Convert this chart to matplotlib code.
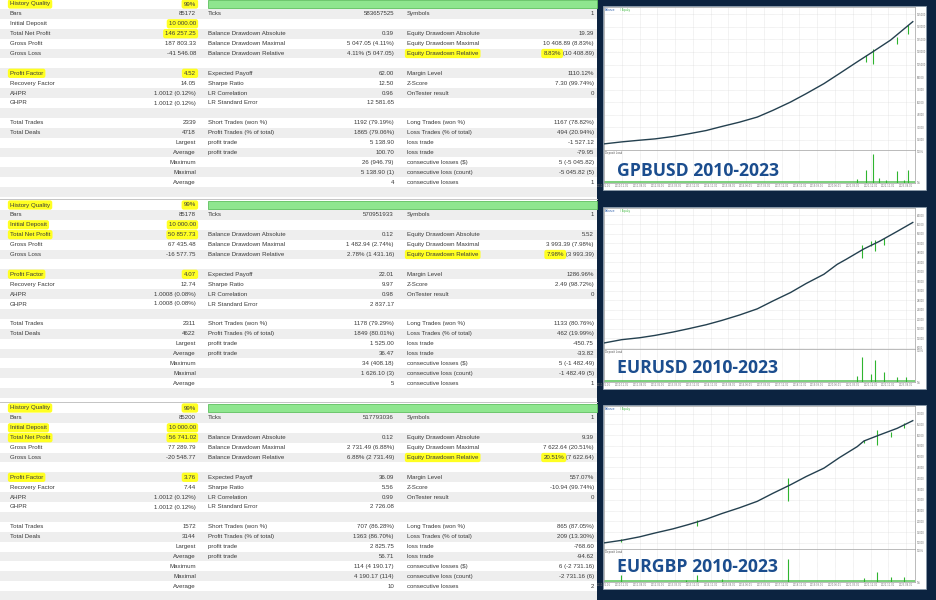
import numpy as np
import matplotlib
matplotlib.use("Agg")
import matplotlib.pyplot as plt
from matplotlib.patches import Rectangle
from matplotlib.ticker import MaxNLocator, FuncFormatter

W, H = 937, 600
FONT = "Liberation Sans"
TXT = "#3a3a3a"
ROW_BG = "#eeeeee"
HILITE = "#ffff22"
NAVY = "#0c2340"
TITLE_BLUE = "#1b4d8e"
LINE = "#24404f"
GREEN = "#2fb52f"
GRID = "#d6d6d6"

# ---- tabel laporan MT5 ----
ROW_LABELS = ["History Quality", "Bars", "Initial Deposit", "Total Net Profit",
              "Gross Profit", "Gross Loss", "", "Profit Factor", "Recovery Factor",
              "AHPR", "GHPR", "", "Total Trades", "Total Deals", "Largest",
              "Average", "Maximum", "Maximal", "Average", ""]
COL2_LABELS = ["", "Ticks", "", "Balance Drawdown Absolute", "Balance Drawdown Maximal",
               "Balance Drawdown Relative", "", "Expected Payoff", "Sharpe Ratio",
               "LR Correlation", "LR Standard Error", "", "Short Trades (won %)",
               "Profit Trades (% of total)", "profit trade", "profit trade", "", "", "", ""]
COL3_LABELS = ["", "Symbols", "", "Equity Drawdown Absolute", "Equity Drawdown Maximal",
               "Equity Drawdown Relative", "", "Margin Level", "Z-Score", "OnTester result",
               "", "", "Long Trades (won %)", "Loss Trades (% of total)", "loss trade",
               "loss trade", "consecutive losses ($)", "consecutive loss (count)",
               "consecutive losses", ""]

GBP_C1 = ["99%", "85172", "10 000.00", "146 257.25", "187 803.33", "-41 546.08", "",
          "4.52", "14.05", "1.0012 (0.12%)", "1.0012 (0.12%)", "", "2339", "4718",
          "", "", "", "", "", ""]
GBP_C2 = ["", "583657525", "", "0.39", "5 047.05 (4.11%)", "4.11% (5 047.05)", "",
          "62.00", "12.50", "0.96", "12 581.65", "", "1192 (79.19%)", "1865 (79.06%)",
          "5 138.90", "100.70", "26 (946.79)", "5 138.90 (1)", "4", ""]
GBP_C3 = ["", "1", "", "19.39", "10 408.89 (8.83%)", "8.83% (10 408.89)", "",
          "1110.12%", "7.30 (99.74%)", "0", "", "", "1167 (78.82%)", "494 (20.94%)",
          "-1 527.12", "-79.95", "5 (-5 045.82)", "-5 045.82 (5)", "1", ""]

EUR_C1 = ["99%", "85178", "10 000.00", "50 857.73", "67 435.48", "-16 577.75", "",
          "4.07", "12.74", "1.0008 (0.08%)", "1.0008 (0.08%)", "", "2311", "4622",
          "", "", "", "", "", ""]
EUR_C2 = ["", "570951933", "", "0.12", "1 482.94 (2.74%)", "2.78% (1 431.16)", "",
          "22.01", "9.97", "0.98", "2 837.17", "", "1178 (79.29%)", "1849 (80.01%)",
          "1 525.00", "36.47", "34 (408.18)", "1 626.10 (3)", "5", ""]
EUR_C3 = ["", "1", "", "5.52", "3 993.39 (7.98%)", "7.98% (3 993.39)", "",
          "1286.96%", "2.49 (98.72%)", "0", "", "", "1133 (80.76%)", "462 (19.99%)",
          "-450.75", "-33.82", "5 (-1 482.49)", "-1 482.49 (5)", "1", ""]

EGB_C1 = ["99%", "85200", "10 000.00", "56 741.02", "77 289.79", "-20 548.77", "",
          "3.76", "7.44", "1.0012 (0.12%)", "1.0012 (0.12%)", "", "1572", "3144",
          "", "", "", "", "", ""]
EGB_C2 = ["", "517793036", "", "0.12", "2 731.49 (6.88%)", "6.88% (2 731.49)", "",
          "36.09", "5.56", "0.99", "2 726.08", "", "707 (86.28%)", "1363 (86.70%)",
          "2 825.75", "56.71", "114 (4 190.17)", "4 190.17 (114)", "10", ""]
EGB_C3 = ["", "1", "", "9.39", "7 622.64 (20.51%)", "20.51% (7 622.64)", "",
          "557.07%", "-10.94 (99.74%)", "0", "", "", "865 (87.05%)", "209 (13.30%)",
          "-768.60", "-94.62", "6 (-2 731.16)", "-2 731.16 (6)", "2", ""]

# baris yang distabilo (label kolom-1 / nilai kolom-1)
GBP_HL_LABEL = [0, 7]
EUR_HL_LABEL = [0, 2, 3, 7]
EGB_HL_LABEL = [0, 2, 3, 7]
HL_VALUE = [0, 2, 3, 7]

# ---- kurva balance (tahun, saldo) ----
GBP_YEAR = [2010.0, 2010.8, 2011.6, 2012.3, 2013.1, 2013.8, 2014.6, 2015.3, 2016.1,
            2016.9, 2017.6, 2018.4, 2019.1, 2019.9, 2020.6, 2021.4, 2022.1, 2022.9, 2023.9]
GBP_BAL = [10000, 12400, 14400, 16000, 18800, 22000, 26000, 30800, 36000,
           42100, 50100, 60100, 70100, 82100, 94200, 108200, 120200, 134200, 156257]
GBP_SPK_YEAR = [2021.8, 2022.1, 2023.2, 2023.7]
GBP_SPK_LO = [108000, 106000, 130000, 142000]
GBP_SPK_HI = [116000, 124000, 138000, 152000]
GBP_LOAD_YEAR = [2021.4, 2021.8, 2022.1, 2022.4, 2022.7, 2023.2, 2023.5, 2023.7]
GBP_LOAD = [0.12, 0.42, 0.93, 0.16, 0.08, 0.37, 0.10, 0.40]

EUR_YEAR = [2010.0, 2010.8, 2011.6, 2012.3, 2013.1, 2013.8, 2014.6, 2015.3, 2016.1,
            2016.9, 2017.6, 2018.4, 2019.1, 2019.9, 2020.5, 2020.9, 2021.7, 2022.4, 2023.2, 2023.9]
EUR_BAL = [10000, 11400, 12200, 13200, 14600, 16000, 17700, 19500, 21800,
           24400, 27700, 31300, 35100, 39000, 43200, 45300, 49700, 52900, 57100, 60858]
EUR_SPK_YEAR = [2021.6, 2022.0, 2022.2, 2022.6]
EUR_SPK_LO = [45950, 50800, 48700, 51500]
EUR_SPK_HI = [51500, 52900, 53600, 54300]
EUR_LOAD_YEAR = [2021.4, 2021.6, 2022.0, 2022.2, 2022.6, 2023.2, 2023.6]
EUR_LOAD = [0.19, 0.80, 0.26, 0.71, 0.31, 0.17, 0.17]

EGB_YEAR = [2010.0, 2010.8, 2011.6, 2012.3, 2013.1, 2013.8, 2014.6, 2015.3, 2016.1,
            2016.9, 2017.6, 2018.4, 2019.1, 2019.9, 2020.6, 2021.4, 2021.7, 2022.4, 2023.2, 2023.9]
EGB_BAL = [10000, 11200, 12800, 14600, 16500, 18500, 21000, 23600, 26300,
           29300, 33000, 37000, 40800, 44700, 49600, 54700, 57300, 60100, 63200, 66741]
EGB_SPK_YEAR = [2010.75, 2014.2, 2018.3, 2021.7, 2022.3, 2022.9, 2023.5]
EGB_SPK_LO = [10300, 17700, 29300, 56300, 55500, 59300, 63200]
EGB_SPK_HI = [11850, 20800, 40100, 57800, 62400, 61650, 65500]
EGB_LOAD_YEAR = [2010.75, 2013.7, 2014.2, 2015.3, 2018.3, 2021.7, 2022.3, 2022.9, 2023.5]
EGB_LOAD = [0.22, 0.07, 0.22, 0.08, 0.74, 0.12, 0.31, 0.17, 0.17]

TITLES = ["GPBUSD 2010-2023", "EURUSD 2010-2023", "EURGBP 2010-2023"]

ROW_H = 9.9
BLOCK_TOP = [4, 205, 408]
X_L1, X_V1, X_L2, X_V2, X_L3, X_V3 = 10, 196, 208, 394, 407, 594
FS = 4.4


def px_axes(fig, x0, y0, x1, y1):
    return fig.add_axes([x0 / W, 1 - y1 / H, (x1 - x0) / W, (y1 - y0) / H])


def put(ax, x, y, s, ha="left", hl=False):
    kw = dict(fontsize=FS, family=FONT, color=TXT, ha=ha, va="center", zorder=5)
    if hl:
        kw["bbox"] = dict(boxstyle="round,pad=0.35", fc=HILITE, ec="none")
    return ax.text(x, y, s, **kw)


def draw_block(ax, rnd, y0, c1, c2, c3, hl_label):
    for i in range(20):
        yc = y0 + i * ROW_H
        if i % 2 == 1:
            ax.add_patch(Rectangle((0, yc - ROW_H / 2), 597, ROW_H, fc=ROW_BG, ec="none", zorder=1))
    ax.add_patch(Rectangle((208, y0 - 3.8), 389, 7.6, fc="#8fe68f", ec="#5fbf5f", lw=0.6, zorder=2))
    for i in range(20):
        yc = y0 + i * ROW_H
        lab = ROW_LABELS[i]
        if 14 <= i <= 18:
            put(ax, X_V1, yc, lab, ha="right")
        elif lab:
            put(ax, X_L1, yc, lab, hl=i in hl_label)
        if c1[i]:
            put(ax, X_V1, yc, c1[i], ha="right", hl=i in HL_VALUE)
        if COL2_LABELS[i]:
            put(ax, X_L2, yc, COL2_LABELS[i])
        if c2[i]:
            put(ax, X_V2, yc, c2[i], ha="right")
        if COL3_LABELS[i]:
            put(ax, X_L3, yc, COL3_LABELS[i], hl=(i == 5))
        if c3[i]:
            if i == 5:
                pct, rest = c3[i].split(" ", 1)
                t = put(ax, X_V3, yc, " " + rest, ha="right")
                bb = t.get_window_extent(rnd)
                xl = ax.transData.inverted().transform((bb.x0, bb.y0))[0]
                put(ax, xl, yc, pct, ha="right", hl=True)
            else:
                put(ax, X_V3, yc, c3[i], ha="right")


def year_label(v, pos):
    yr = int(v)
    mo = int(round((v - yr) * 12)) + 1
    return f"{yr}.{min(mo, 12):02d}.01"


def draw_chart(fig, bg, top, div, bot, years, bal, sx, slo, shi, lx, lv, title, base):
    bg.add_patch(Rectangle((603, top - 1), 323, bot - top + 8, fc="white", ec="#8a9aaa", lw=0.6, zorder=3))
    ax = px_axes(fig, 604, top, 915, div)
    ax.vlines(sx, slo, shi, color=GREEN, lw=0.8, zorder=2)
    ax.plot(years, bal, color=LINE, lw=1.0, zorder=3)
    ax.set_xlim(2010, 2024)
    lo, hi = min(bal), max(bal)
    ax.set_ylim(lo - 0.05 * (hi - lo), hi + 0.12 * (hi - lo))
    ax.set_xticks(np.arange(2010, 2024.01, 0.8))
    ax.yaxis.set_major_locator(MaxNLocator(16))
    ax.yaxis.tick_right()
    ax.grid(True, color=GRID, lw=0.4, ls=(0, (1, 1)))
    ax.tick_params(length=0, labelsize=1.8, colors="#777", pad=1, labelbottom=False)
    ax.yaxis.set_major_formatter(FuncFormatter(lambda v, p: f"{v:.0f}"))
    for s in ax.spines.values():
        s.set_color("#a0a0a0"); s.set_linewidth(0.5)
    ax.text(0.004, 0.99, "Balance", transform=ax.transAxes, fontsize=1.9, color="#2a5caa", va="top")
    ax.text(0.05, 0.99, "/ Equity", transform=ax.transAxes, fontsize=1.9, color=GREEN, va="top")

    ax2 = px_axes(fig, 604, div, 915, bot)
    ax2.plot([2010, 2024], [0.025, 0.025], color=GREEN, lw=1.1, alpha=0.8)
    ax2.vlines(lx, 0, lv, color=GREEN, lw=0.8)
    ax2.set_xlim(2010, 2024); ax2.set_ylim(0, 1.05)
    ax2.set_xticks(np.arange(2010, 2024.01, 0.8))
    ax2.set_yticks([0, 1])
    ax2.set_yticklabels(["0%", "100%"])
    ax2.yaxis.tick_right()
    ax2.xaxis.set_major_formatter(FuncFormatter(year_label))
    ax2.grid(True, axis="x", color=GRID, lw=0.4, ls=(0, (1, 1)))
    ax2.tick_params(length=0, labelsize=1.8, colors="#777", pad=1)
    for s in ax2.spines.values():
        s.set_color("#a0a0a0"); s.set_linewidth(0.5)
    ax2.text(0.004, 0.97, "Deposit Load", transform=ax2.transAxes, fontsize=1.9, color="#555", va="top")

    fig.text(617 / W, 1 - base / H, title, fontsize=12.7, fontweight="bold",
             family="Open Sans", color=TITLE_BLUE, va="baseline")


def main():
    fig = plt.figure(figsize=(W / 100, H / 100), dpi=100)
    bg = fig.add_axes([0, 0, 1, 1])
    bg.set_xlim(0, W); bg.set_ylim(H, 0); bg.axis("off")
    bg.add_patch(Rectangle((0, 0), 597, H, fc="white", ec="none", zorder=0))
    bg.add_patch(Rectangle((597, 0), W - 597, H, fc=NAVY, ec="none", zorder=0))
    for y in (198.5, 401.5):
        bg.plot([0, 597], [y, y], color="#c4c4c4", lw=0.7, zorder=2)
    rnd = fig.canvas.get_renderer()

    blocks = [(GBP_C1, GBP_C2, GBP_C3, GBP_HL_LABEL),
              (EUR_C1, EUR_C2, EUR_C3, EUR_HL_LABEL),
              (EGB_C1, EGB_C2, EGB_C3, EGB_HL_LABEL)]
    for y0, (c1, c2, c3, hl) in zip(BLOCK_TOP, blocks):
        draw_block(bg, rnd, y0, c1, c2, c3, hl)

    draw_chart(fig, bg, 7, 150, 183, GBP_YEAR, GBP_BAL, GBP_SPK_YEAR, GBP_SPK_LO, GBP_SPK_HI,
               GBP_LOAD_YEAR, GBP_LOAD, TITLES[0], 176)
    draw_chart(fig, bg, 208, 349, 382, EUR_YEAR, EUR_BAL, EUR_SPK_YEAR, EUR_SPK_LO, EUR_SPK_HI,
               EUR_LOAD_YEAR, EUR_LOAD, TITLES[1], 373)
    draw_chart(fig, bg, 406, 549, 582, EGB_YEAR, EGB_BAL, EGB_SPK_YEAR, EGB_SPK_LO, EGB_SPK_HI,
               EGB_LOAD_YEAR, EGB_LOAD, TITLES[2], 572)

    fig.savefig("out.png", dpi=100)
    plt.close(fig)


if __name__ == "__main__":
    main()
